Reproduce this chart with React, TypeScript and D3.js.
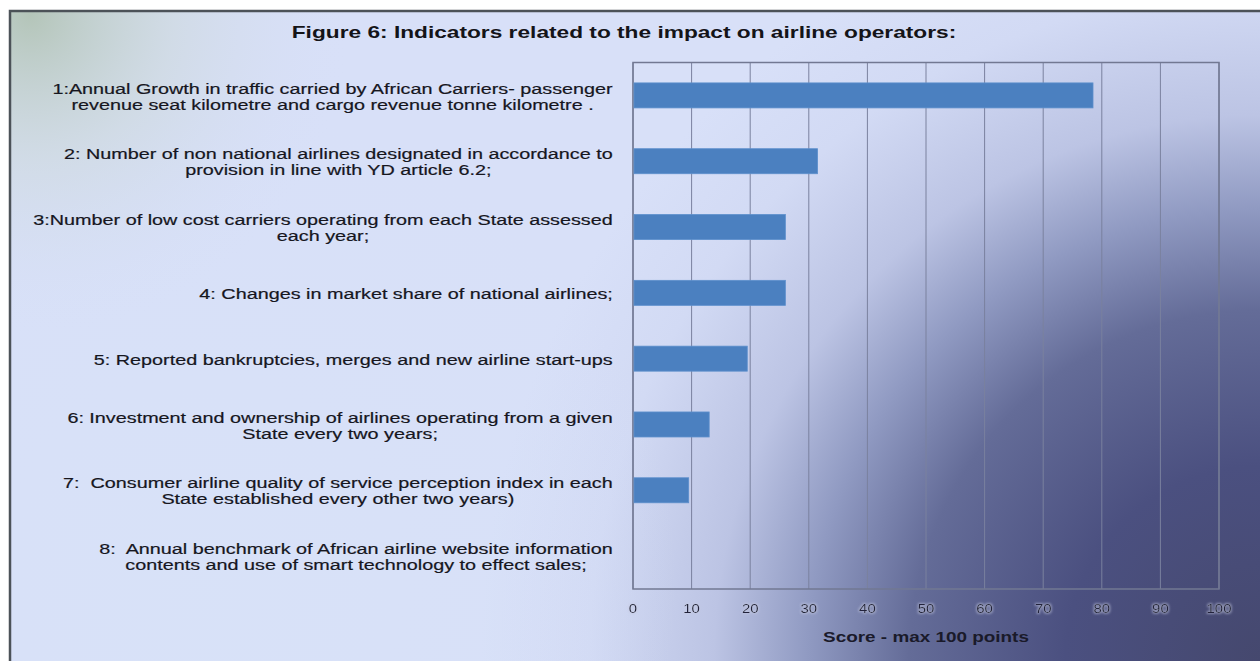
import React, { useEffect, useRef } from "react";
import * as d3 from "d3";

// Indicator labels (each entry is the list of lines shown for that category)
const indicatorLabels: string[][] = [
  ["1:Annual Growth in traffic carried by African Carriers- passenger", "revenue seat kilometre and cargo revenue tonne kilometre ."],
  ["2: Number of non national airlines designated in accordance to", "provision in line with YD article 6.2;"],
  ["3:Number of low cost carriers operating from each State assessed", "each year;"],
  ["4: Changes in market share of national airlines;"],
  ["5: Reported bankruptcies, merges and new airline start-ups"],
  ["6: Investment and ownership of airlines operating from a given", "State every two years;"],
  ["7:  Consumer airline quality of service perception index in each", "State established every other two years)"],
  ["8:  Annual benchmark of African airline website information", "contents and use of smart technology to effect sales;"],
];

// Score for each indicator (max 100 points)
const scores: number[] = [78.5, 31.5, 26, 26, 19.5, 13, 9.5, 0];

const xTicks: number[] = [0, 10, 20, 30, 40, 50, 60, 70, 80, 90, 100];

const chartTitle = "Figure 6: Indicators related to the impact on airline operators:";
const axisTitle = "Score - max 100 points";

const W = 1260;
const H = 661;
const FONT = "'Liberation Sans', Arial, sans-serif";

export default function App() {
  const ref = useRef<SVGSVGElement | null>(null);

  useEffect(() => {
    const svg = d3.select(ref.current);
    svg.selectAll("*").remove();

    const plot = { left: 633, right: 1219, top: 62.5, bottom: 589 };

    const x = d3.scaleLinear().domain([0, 100]).range([plot.left, plot.right]);
    const y = d3
      .scaleBand<number>()
      .domain(d3.range(indicatorLabels.length))
      .range([plot.top, plot.bottom])
      .paddingInner(0.62)
      .paddingOuter(0.31);

    const defs = svg.append("defs");

    const bgDark = defs
      .append("radialGradient")
      .attr("id", "bgDark")
      .attr("gradientUnits", "userSpaceOnUse")
      .attr("cx", 1260)
      .attr("cy", 661)
      .attr("r", 780);
    [
      [0, "#45486e"],
      [0.25, "#4b5080"],
      [0.45, "#646c98"],
      [0.58, "#909ac2"],
      [0.7, "#bcc4e4"],
      [0.86, "#d2daf4"],
      [1, "#d8e0f8"],
    ].forEach(([o, c]) => bgDark.append("stop").attr("offset", o as number).attr("stop-color", c as string));

    const bgGreen = defs
      .append("radialGradient")
      .attr("id", "bgGreen")
      .attr("gradientUnits", "userSpaceOnUse")
      .attr("cx", 30)
      .attr("cy", 15)
      .attr("r", 320);
    bgGreen.append("stop").attr("offset", 0).attr("stop-color", "#a8bca4").attr("stop-opacity", 0.75);
    bgGreen.append("stop").attr("offset", 0.45).attr("stop-color", "#c6d4cc").attr("stop-opacity", 0.4);
    bgGreen.append("stop").attr("offset", 1).attr("stop-color", "#d6def6").attr("stop-opacity", 0);

    const bgLowLeft = defs
      .append("radialGradient")
      .attr("id", "bgLowLeft")
      .attr("gradientUnits", "userSpaceOnUse")
      .attr("cx", 200)
      .attr("cy", 580)
      .attr("r", 480);
    bgLowLeft.append("stop").attr("offset", 0).attr("stop-color", "#d8e2f8").attr("stop-opacity", 0.85);
    bgLowLeft.append("stop").attr("offset", 1).attr("stop-color", "#d8e2f8").attr("stop-opacity", 0);

    const halo = defs.append("filter").attr("id", "halo").attr("x", -0.3).attr("y", -0.5).attr("width", 1.6).attr("height", 2);
    halo.append("feMorphology").attr("in", "SourceAlpha").attr("operator", "dilate").attr("radius", 1.2).attr("result", "d");
    halo.append("feFlood").attr("flood-color", "#c4c8e0").attr("flood-opacity", 0.55);
    halo.append("feComposite").attr("in2", "d").attr("operator", "in").attr("result", "h");
    halo.append("feGaussianBlur").attr("in", "h").attr("stdDeviation", 0.9).attr("result", "hb");
    const hm = halo.append("feMerge");
    hm.append("feMergeNode").attr("in", "hb");
    hm.append("feMergeNode").attr("in", "SourceGraphic");

    // page background and frame
    svg.append("rect").attr("x", 0).attr("y", 0).attr("width", W).attr("height", H).attr("fill", "#ffffff");
    const frame = { x: 10, y: 11, w: W + 10, h: H + 10 };
    ["url(#bgDark)", "url(#bgLowLeft)", "url(#bgGreen)"].forEach((f) =>
      svg.append("rect").attr("x", frame.x).attr("y", frame.y).attr("width", frame.w).attr("height", frame.h).attr("fill", f)
    );
    svg
      .append("rect")
      .attr("x", frame.x)
      .attr("y", frame.y)
      .attr("width", frame.w)
      .attr("height", frame.h)
      .attr("fill", "none")
      .attr("stroke", "#4c5258")
      .attr("stroke-width", 2.5);

    const stretched = (g: any, tx: number, ty: number, sx: number) =>
      g
        .append("text")
        .attr("transform", `translate(${tx},${ty}) scale(${sx},1)`)
        .attr("x", 0)
        .attr("y", 0)
        .style("white-space", "pre");

    // title
    stretched(svg, 624, 32, 1.42)
      .attr("text-anchor", "middle")
      .attr("dominant-baseline", "central")
      .attr("font-family", FONT)
      .attr("font-size", 16)
      .attr("font-weight", "bold")
      .attr("fill", "#141418")
      .text(chartTitle);

    // grid lines
    svg
      .append("g")
      .selectAll("line")
      .data(xTicks)
      .join("line")
      .attr("x1", (d) => x(d))
      .attr("x2", (d) => x(d))
      .attr("y1", plot.top)
      .attr("y2", plot.bottom)
      .attr("stroke", "#7a819e")
      .attr("stroke-width", 1);

    // plot border
    svg
      .append("rect")
      .attr("x", plot.left)
      .attr("y", plot.top)
      .attr("width", plot.right - plot.left)
      .attr("height", plot.bottom - plot.top)
      .attr("fill", "none")
      .attr("stroke", "#727892")
      .attr("stroke-width", 1.5);

    // bars
    svg
      .append("g")
      .selectAll("rect")
      .data(scores)
      .join("rect")
      .attr("x", x(0) + 1)
      .attr("y", (_d, i) => y(i)!)
      .attr("width", (d) => Math.max(0, x(d) - x(0) - 1))
      .attr("height", y.bandwidth())
      .attr("fill", "#4b80c0")
      .attr("stroke", "#5d8fcc")
      .attr("stroke-width", 0.8);

    // category labels: lines centred within a block right-aligned to the axis
    const labelRight = 613;
    const lineGap = 16;
    const labelSize = 15;
    const labelSX = 1.32;
    const lg = svg.append("g");
    indicatorLabels.forEach((lines, i) => {
      const cy = y(i)! + y.bandwidth() / 2 + 1;
      const temp = lines.map((t) =>
        lg
          .append("text")
          .attr("font-family", FONT)
          .attr("font-size", labelSize)
          .style("white-space", "pre")
          .text(t)
      );
      const widths = temp.map((tn) => (tn.node() as SVGTextElement).getComputedTextLength() * labelSX);
      temp.forEach((tn) => tn.remove());
      const blockW = Math.max(...widths);
      const cx = labelRight - blockW / 2;
      lines.forEach((t, k) => {
        const ly = cy + (k - (lines.length - 1) / 2) * lineGap;
        stretched(lg, cx, ly, labelSX)
          .attr("text-anchor", "middle")
          .attr("dominant-baseline", "central")
          .attr("font-family", FONT)
          .attr("font-size", labelSize)
          .attr("fill", "#16161e")
          .attr("stroke", "#16161e")
          .attr("stroke-width", 0.2)
          .text(t);
      });
    });

    // x tick labels
    const tg = svg.append("g").attr("filter", "url(#halo)");
    xTicks.forEach((t) => {
      stretched(tg, x(t), 608, 1.15)
        .attr("text-anchor", "middle")
        .attr("dominant-baseline", "central")
        .attr("font-family", FONT)
        .attr("font-size", 13)
        .attr("fill", "#22243a")
        .text(String(t));
    });

    // axis title
    stretched(svg, (plot.left + plot.right) / 2, 637, 1.35)
      .attr("text-anchor", "middle")
      .attr("dominant-baseline", "central")
      .attr("font-family", FONT)
      .attr("font-size", 14)
      .attr("font-weight", "bold")
      .attr("fill", "#1a1a2a")
      .text(axisTitle);
  }, []);

  return (
    <svg
      ref={ref}
      width={W}
      height={H}
      style={{ position: "fixed", left: 0, top: 0, display: "block" }}
    />
  );
}
